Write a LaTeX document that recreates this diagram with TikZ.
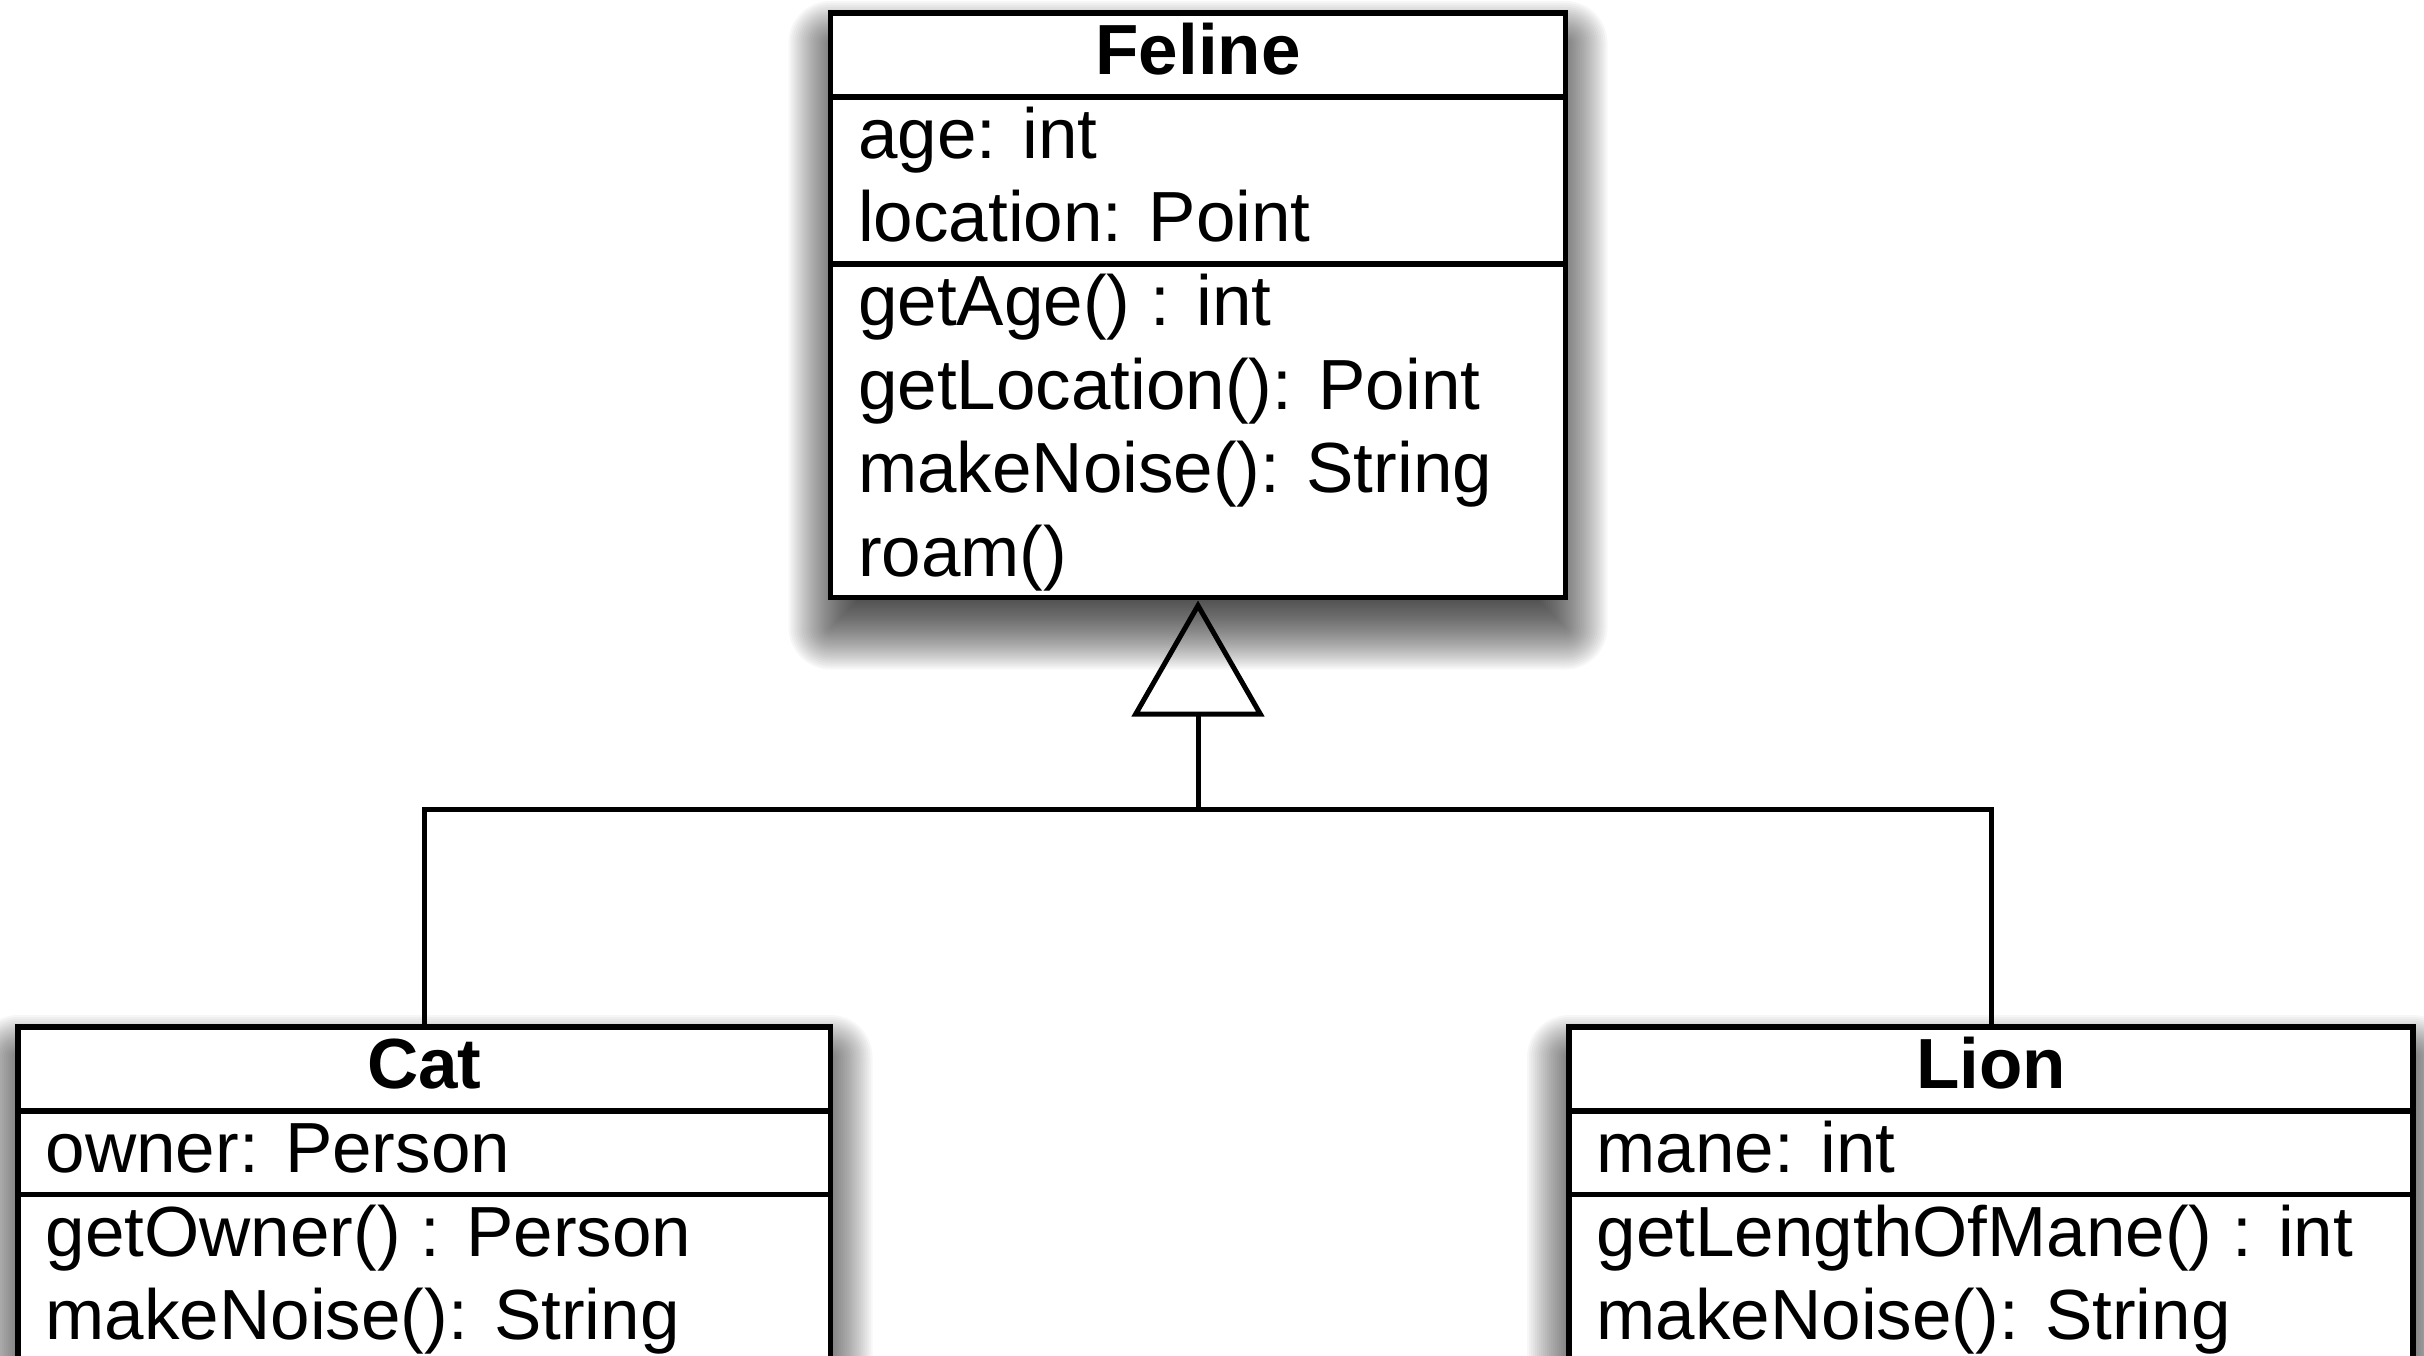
\documentclass[tikz,border=0pt]{standalone}
\usepackage{fontspec}
\setmainfont{Liberation Sans}
\usetikzlibrary{arrows.meta}

\tikzset{
  classbox/.style={draw, line width=5.5pt, fill=white, inner sep=0pt, outer sep=0pt, anchor=north west},
  rule/.style={line width=5.5pt},
  member/.style={anchor=base west, inner sep=0pt, font=\fontsize{71}{83}\selectfont},
  classname/.style={anchor=base, inner sep=0pt, font=\fontsize{71}{83}\selectfont\bfseries},
  conn/.style={line width=5pt},
  generalization/.style={-{Triangle[open, length=116pt, width=132pt, line width=5pt]}},
}

% soft drop shadow: stacked translucent rectangles, offset downwards
\newcommand{\softshadow}[4]{%
  \foreach \r in {-42,-40,...,42} {
    \pgfmathsetmacro{\rc}{max(\r,0.5)}
    \pgfmathsetmacro{\xa}{#1-\r}
    \pgfmathsetmacro{\ya}{#2+30-\r}
    \pgfmathsetmacro{\xb}{#3+\r}
    \pgfmathsetmacro{\yb}{#4+30+\r}
    \fill[black, fill opacity=0.03, rounded corners=\rc pt]
      (\xa,\ya) rectangle (\xb,\yb);
  }}

\begin{document}
\begin{tikzpicture}[x=1pt, y=-1pt]
  \useasboundingbox (0,0) rectangle (2424,1356);
  \clip (0,0) rectangle (2424,1356);

  % shadows under the three class boxes
  \softshadow{830.5}{13}{1565.5}{597.5}
  \softshadow{18}{1027}{830.5}{1450}
  \softshadow{1569}{1027}{2413}{1450}

  % class boxes
  \node[classbox, minimum width=735pt, minimum height=584.5pt] (feline) at (830.5,13) {};
  \node[classbox, minimum width=812.5pt, minimum height=423pt] (cat) at (18,1027) {};
  \node[classbox, minimum width=844pt, minimum height=423pt] (lion) at (1569,1027) {};

  % compartment separators
  \foreach \b/\d in {feline/84, feline/251, cat/84, cat/167.5, lion/84, lion/167.5}
    \draw[rule] ([yshift=-\d pt]\b.north west) -- ([yshift=-\d pt]\b.north east);

  % Feline
  \node[classname] (felineName) at (1198,74.5) {Feline};
  \node[member] (felineAge) at (858,158.5) {age: int};
  \node[member] (felineLoc) at (858,242) {location: Point};
  \node[member] (felineGetAge) at (858,325.5) {getAge() : int};
  \node[member] (felineGetLoc) at (858,409) {getLocation(): Point};
  \node[member] (felineNoise) at (858,492.5) {makeNoise(): String};
  \node[member] (felineRoam) at (858,576) {roam()};

  % Cat
  \node[classname] (catName) at (424.25,1088.5) {Cat};
  \node[member] (catOwner) at (45.5,1172.5) {owner: Person};
  \node[member] (catGetOwner) at (45.5,1256) {getOwner() : Person};
  \node[member] (catNoise) at (45.5,1339.5) {makeNoise(): String};

  % Lion
  \node[classname] (lionName) at (1991,1088.5) {Lion};
  \node[member] (lionMane) at (1596.5,1172.5) {mane: int};
  \node[member] (lionGetMane) at (1596.5,1256) {getLengthOfMane() : int};
  \node[member] (lionNoise) at (1596.5,1339.5) {makeNoise(): String};

  % inheritance connectors
  \coordinate (hub) at (1198,809.5);
  \draw[conn] (cat.north) |- (hub) -| (lion.north);
  \draw[conn, generalization, shorten >=3pt] (hub) -- (feline.south);
\end{tikzpicture}
\end{document}
